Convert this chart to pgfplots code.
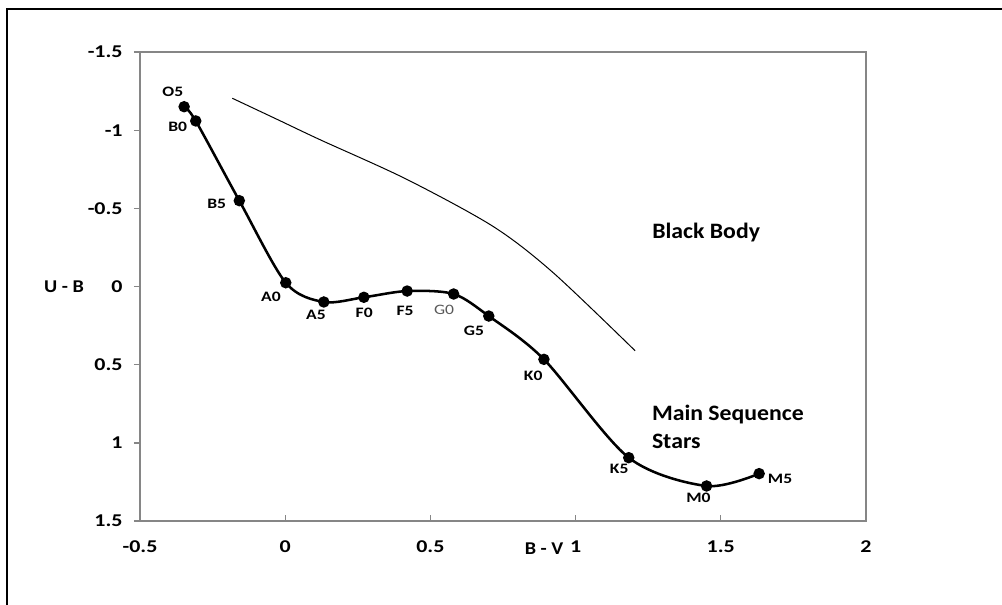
\documentclass[border=0pt]{standalone}
\usepackage{fontspec}
\setmainfont{Carlito}
\usepackage{graphicx}
\usepackage{pgfplots}
\pgfplotsset{compat=1.18}

\definecolor{axisgray}{RGB}{134,134,134}
\definecolor{lblgray}{RGB}{89,89,89}
\newcommand\w[1]{\scalebox{1.22}[1]{#1}}
\tikzset{lbl/.style={font=\fontsize{10.8}{12}\selectfont\bfseries, inner sep=0pt}}

\begin{document}
\begin{tikzpicture}
\begin{axis}[
  width=544.5pt, height=351.75pt, scale only axis,
  xmin=-0.5, xmax=2, ymin=-1.5, ymax=1.5, y dir=reverse,
  axis line style={draw=axisgray, line width=1pt},
  xtick={-0.5,0,0.5,1,1.5,2},
  xticklabels={\w{-0.5},\w{0},\w{0.5},\w{1},\w{1.5},\w{2}},
  ytick={-1.5,-1,-0.5,0,0.5,1,1.5},
  yticklabels={\w{-1.5},\w{-1},\w{-0.5},\w{0},\w{0.5},\w{1},\w{1.5}},
  tick style={draw=axisgray, line width=1pt},
  xtick align=inside, ytick align=outside,
  major tick length=4.5pt,
  xtick pos=bottom, ytick pos=left,
  ticklabel style={font=\fontsize{13.5}{15}\selectfont\bfseries},
  xticklabel style={yshift=-11pt},
  yticklabel style={xshift=-5pt},
  clip=false,
]
% main sequence
\addplot[black, line width=1.9pt, smooth, tension=0.5,
  mark=*, mark size=3.3pt, mark options={solid, fill=black}] coordinates {
  (-0.348,-1.150) (-0.308,-1.059) (-0.158,-0.549) (0.002,-0.024)
  (0.133,0.099) (0.271,0.069) (0.420,0.029) (0.580,0.048)
  (0.701,0.189) (0.891,0.466) (1.183,1.095) (1.451,1.276) (1.632,1.197)
};
% black body
\addplot[black, line width=0.75pt, smooth] coordinates {
  (-0.182,-1.204) (-0.030,-1.071) (0.120,-0.939) (0.418,-0.686)
  (0.717,-0.383) (0.923,-0.088) (1.205,0.411)
};

\node[lbl] at (axis cs:-0.387,-1.246) {\w{O5}};
\node[lbl] at (axis cs:-0.370,-1.022) {\w{B0}};
\node[lbl] at (axis cs:-0.236,-0.526) {\w{B5}};
\node[lbl] at (axis cs:-0.049,0.067) {\w{A0}};
\node[lbl] at (axis cs:0.106,0.182) {\w{A5}};
\node[lbl] at (axis cs:0.272,0.168) {\w{F0}};
\node[lbl] at (axis cs:0.413,0.157) {\w{F5}};
\node[lbl, font=\fontsize{10.8}{12}\selectfont, text=lblgray] at (axis cs:0.547,0.150) {\w{G0}};
\node[lbl] at (axis cs:0.650,0.283) {\w{G5}};
\node[lbl] at (axis cs:0.854,0.571) {\w{K0}};
\node[lbl] at (axis cs:1.150,1.169) {\w{K5}};
\node[lbl] at (axis cs:1.423,1.349) {\w{M0}};
\node[lbl] at (axis cs:1.704,1.229) {\w{M5}};

\coordinate (O) at (axis cs:-0.5,1.5);
\end{axis}

\pgfresetboundingbox
\begin{scope}[shift={(O)}]
  \path[use as bounding box] (-105pt,-63pt) rectangle (646.5pt,390.75pt);
  \draw[black, line width=1.5pt] (-99.75pt,-80pt) -- (-99.75pt,384pt) -- (660pt,384pt);
  \node[font=\fontsize{13.5}{15}\selectfont\bfseries] at (-57pt,175.5pt) {\scalebox{1.12}[1]{U - B}};
  \node[font=\fontsize{13.5}{15}\selectfont\bfseries] at (303pt,-21pt) {\scalebox{1.12}[1]{B - V}};
  \node[font=\fontsize{16.5}{20.8}\selectfont\bfseries, anchor=west, inner sep=0pt] at (384pt,216pt) {\scalebox{1.08}[1]{Black Body}};
  \node[font=\fontsize{16.5}{20.8}\selectfont\bfseries, anchor=north west, align=left, inner sep=0pt] at (383.8pt,87pt) {\scalebox{1.08}[1]{Main Sequence}\\\scalebox{1.08}[1]{Stars}};
\end{scope}
\end{tikzpicture}
\end{document}
